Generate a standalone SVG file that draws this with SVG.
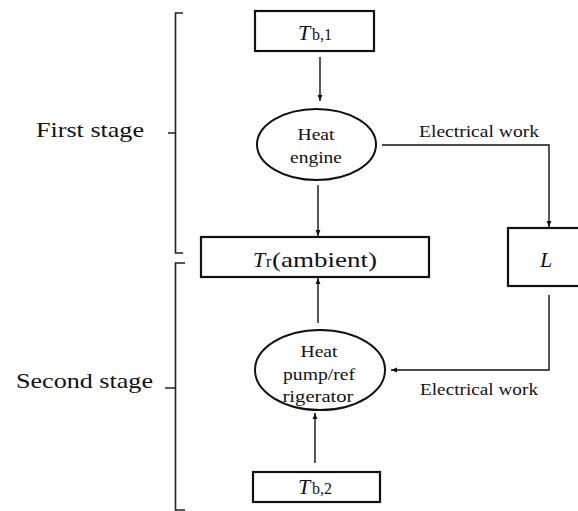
<svg xmlns="http://www.w3.org/2000/svg" width="578" height="511" viewBox="0 0 578 511">
<style>
text{font-family:"Times New Roman","Liberation Serif",Tinos,"Noto Serif","DejaVu Serif",serif;fill:#111}
.box{fill:#fff;stroke:#111;stroke-width:2.2}
.ell{fill:#fff;stroke:#111;stroke-width:2}
.ln{fill:none;stroke:#111;stroke-width:1.4}
.br{fill:none;stroke:#222;stroke-width:1.6}
.lbl{font-size:17px}
.big{font-size:22px}
.it{font-style:italic}
.sub{font-size:16px}
</style>
<defs>
<marker id="ah" viewBox="0 0 10 10" refX="10" refY="5" markerWidth="6" markerHeight="6" orient="auto" markerUnits="userSpaceOnUse">
<path d="M0,1 L10,5 L0,9 z" fill="#111"/>
</marker>
</defs>
<rect width="578" height="511" fill="#fff"/>
<g id="brackets">
<path class="br" d="M183,13 H175.5 V253 H183 M175.5,133 H168"/>
<path class="br" d="M185,263 H175.5 V510 H185 M175.5,388 H165"/>
<text class="big" x="36" y="137" textLength="108" lengthAdjust="spacingAndGlyphs">First stage</text>
<text class="big" x="16" y="388" textLength="137" lengthAdjust="spacingAndGlyphs">Second stage</text>
</g>
<g id="connectors">
<line class="ln" x1="320" y1="57" x2="320" y2="101" marker-end="url(#ah)"/>
<line class="ln" x1="318" y1="185" x2="318" y2="236" marker-end="url(#ah)"/>
<path class="ln" d="M382,145 H549 V227" marker-end="url(#ah)"/>
<path class="ln" d="M549,295 V370 H391" marker-end="url(#ah)"/>
<line class="ln" x1="318" y1="323" x2="318" y2="278" marker-end="url(#ah)"/>
<line class="ln" x1="315" y1="463" x2="315" y2="413" marker-end="url(#ah)"/>
<text class="lbl" x="419" y="137" textLength="120" lengthAdjust="spacingAndGlyphs">Electrical work</text>
<text class="lbl" x="420" y="395" textLength="118" lengthAdjust="spacingAndGlyphs">Electrical work</text>
</g>
<g id="tb1">
<rect class="box" x="255" y="11" width="119" height="40"/>
<text x="298" y="40"><tspan class="big it">T</tspan><tspan class="sub" x="312">b,1</tspan></text>
</g>
<g id="engine">
<ellipse class="ell" cx="316.5" cy="144.5" rx="59.5" ry="35.5"/>
<text class="lbl" x="316" y="140" text-anchor="middle" textLength="37" lengthAdjust="spacingAndGlyphs">Heat</text>
<text class="lbl" x="316" y="163" text-anchor="middle" textLength="52" lengthAdjust="spacingAndGlyphs">engine</text>
</g>
<g id="tr">
<rect class="box" x="201" y="237" width="228" height="40"/>
<text x="253" y="267"><tspan class="big it">T</tspan><tspan class="sub" x="266">r</tspan><tspan class="big" x="272" textLength="105" lengthAdjust="spacingAndGlyphs">(ambient)</tspan></text>
</g>
<g id="L">
<rect class="box" x="508" y="228" width="80" height="58"/>
<text class="big it" x="540" y="267">L</text>
</g>
<g id="pump">
<ellipse class="ell" cx="320" cy="370" rx="65" ry="40"/>
<text class="lbl" x="319" y="357" text-anchor="middle" textLength="37" lengthAdjust="spacingAndGlyphs">Heat</text>
<text class="lbl" x="319" y="380" text-anchor="middle" textLength="72" lengthAdjust="spacingAndGlyphs">pump/ref</text>
<text class="lbl" x="318" y="402" text-anchor="middle" textLength="71" lengthAdjust="spacingAndGlyphs">rigerator</text>
</g>
<g id="tb2">
<rect class="box" x="253" y="472" width="127" height="30"/>
<text x="298" y="494"><tspan class="big it">T</tspan><tspan class="sub" x="312">b,2</tspan></text>
</g>
</svg>
